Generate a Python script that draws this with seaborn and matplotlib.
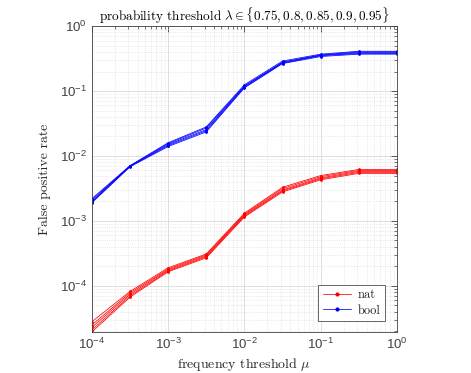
import numpy as np
import pandas as pd
import matplotlib
matplotlib.use("Agg")
import matplotlib.pyplot as plt
import seaborn as sns

# frequency threshold mu (x values)
mu = [1e-4, 3.16e-4, 1e-3, 3.16e-3, 1e-2, 3.16e-2, 1e-1, 3.16e-1, 1.0]
lambdas = [0.75, 0.8, 0.85, 0.9, 0.95]

# false positive rates, one list per lambda
bool_rates = [
    [2.2e-3, 7.1e-3, 1.60e-2, 2.80e-2, 0.125, 0.290, 0.370, 0.410, 0.410],
    [2.1e-3, 7.0e-3, 1.55e-2, 2.70e-2, 0.120, 0.280, 0.360, 0.400, 0.400],
    [2.0e-3, 7.0e-3, 1.50e-2, 2.55e-2, 0.118, 0.275, 0.355, 0.390, 0.390],
    [1.95e-3, 6.9e-3, 1.45e-2, 2.45e-2, 0.115, 0.270, 0.350, 0.380, 0.380],
    [1.9e-3, 6.8e-3, 1.40e-2, 2.35e-2, 0.112, 0.265, 0.340, 0.370, 0.370],
]
nat_rates = [
    [2.8e-5, 8.2e-5, 1.90e-4, 3.1e-4, 1.32e-3, 3.30e-3, 5.00e-3, 6.2e-3, 6.2e-3],
    [2.5e-5, 7.8e-5, 1.82e-4, 3.0e-4, 1.27e-3, 3.15e-3, 4.80e-3, 6.0e-3, 6.0e-3],
    [2.3e-5, 7.4e-5, 1.76e-4, 2.9e-4, 1.23e-3, 3.00e-3, 4.60e-3, 5.8e-3, 5.8e-3],
    [2.1e-5, 7.0e-5, 1.70e-4, 2.8e-4, 1.19e-3, 2.90e-3, 4.45e-3, 5.6e-3, 5.6e-3],
    [1.95e-5, 6.7e-5, 1.65e-4, 2.7e-4, 1.15e-3, 2.80e-3, 4.30e-3, 5.4e-3, 5.4e-3],
]

rows = []
for method, rates in [("nat", nat_rates), ("bool", bool_rates)]:
    for lam, vals in zip(lambdas, rates):
        for m, v in zip(mu, vals):
            rows.append({"mu": m, "rate": v, "lam": lam, "method": method})
df = pd.DataFrame(rows)

sns.set_style("white")
plt.rcParams["font.family"] = ["Liberation Sans", "DejaVu Sans"]
plt.rcParams["mathtext.fontset"] = "dejavusans"

fig = plt.figure(figsize=(4.71, 3.73), dpi=100)
ax = fig.add_axes([0.195, 0.110, 0.648, 0.820])

sns.lineplot(data=df, x="mu", y="rate", hue="method", units="lam", estimator=None,
             palette={"nat": "red", "bool": "blue"}, marker=".", markersize=4,
             markeredgewidth=0, linewidth=0.55, ax=ax, legend=False, sort=False)

ax.set_xscale("log")
ax.set_yscale("log")
ax.set_xlim(1e-4, 1)
ax.set_ylim(1.95e-5, 1)

ax.grid(True, which="major", color="0.85", linewidth=0.6, linestyle="-")
ax.grid(True, which="minor", color="0.85", linewidth=0.5, linestyle=":")
ax.tick_params(which="both", direction="in", top=True, right=True, colors="0.25",
               labelsize=9.5)
ax.tick_params(which="major", length=4, width=0.6)
ax.tick_params(which="minor", length=2, width=0.5)
for s in ax.spines.values():
    s.set_color("0.25")
    s.set_linewidth(0.6)

serif = dict(fontfamily="cmr10", math_fontfamily="cm")
ax.set_title(r"probability threshold $\lambda \in \{0.75, 0.8, 0.85, 0.9, 0.95\}$",
             fontsize=9.5, pad=4, color="black", **serif)
ax.set_xlabel(r"frequency threshold $\mu$", fontsize=10, labelpad=3, **serif)
ax.set_ylabel("False positive rate", fontsize=10, labelpad=6, **serif)

h_nat, = ax.plot([], [], color="red", marker=".", markersize=4, linewidth=0.55, label="nat")
h_bool, = ax.plot([], [], color="blue", marker=".", markersize=4, linewidth=0.55, label="bool")
leg = ax.legend(handles=[h_nat, h_bool], loc="lower right", fancybox=False,
                framealpha=1, edgecolor="0.3", handlelength=2.3, handletextpad=0.5,
                borderpad=0.35, labelspacing=0.25, borderaxespad=0,
                bbox_to_anchor=(0.96, 0.036),
                prop={"family": "cmr10", "size": 9})
leg.get_frame().set_linewidth(0.6)

fig.savefig("out.png", dpi=100)
